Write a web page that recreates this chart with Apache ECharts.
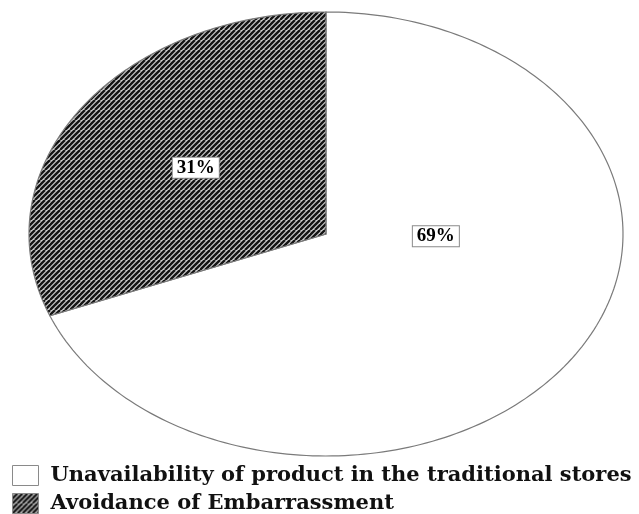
<!DOCTYPE html>
<html>
<head>
<meta charset="utf-8">
<script src="https://cdn.jsdelivr.net/npm/echarts@6/dist/echarts.min.js"></script>
<style>
  html, body { margin: 0; padding: 0; background: #fff; }
  #chart { width: 639px; height: 514px; }
</style>
</head>
<body>
<div id="chart"></div>
<script>
// data
const categories = ["Unavailability of product in the traditional stores", "Avoidance of Embarrassment"];
const values = [69, 31];
const labels = ["69%", "31%"];

// ellipse geometry (px)
const CX = 326, CY = 234, RX = 297, RY = 222;
// label placement: [angle clockwise from top in deg or null for mid angle, fraction of radius]
const labelPlace = [[91.5, 0.37], [null, 0.53]];

// diagonal hatch pattern
const makeHatch = () => {
  const s = 10, p = 5;
  const c = document.createElement("canvas");
  c.width = s; c.height = s;
  const ctx = c.getContext("2d");
  ctx.fillStyle = "#cfcfcf";
  ctx.fillRect(0, 0, s, s);
  ctx.strokeStyle = "#141414";
  ctx.lineWidth = 2.4;
  for (let k = -2 * s; k <= 3 * s; k += p) {
    ctx.beginPath();
    ctx.moveTo(k, 0);
    ctx.lineTo(k - s, s);
    ctx.stroke();
  }
  return { image: c, repeat: "repeat" };
};
const hatch = makeHatch();
const fills = ["#ffffff", hatch];

const total = values.reduce((a, b) => a + b, 0);

const renderSlice = (params, api) => {
  const i = params.seriesIndex;
  let before = 0;
  for (let k = 0; k < i; k++) before += values[k];
  const a0 = (before / total) * 2 * Math.PI;
  const a1 = ((before + values[i]) / total) * 2 * Math.PI;
  const pts = [[CX, CY]];
  const steps = 200;
  for (let s = 0; s <= steps; s++) {
    const t = a0 + (a1 - a0) * (s / steps);
    pts.push([CX + RX * Math.sin(t), CY - RY * Math.cos(t)]);
  }
  const place = labelPlace[i];
  const la = place[0] == null ? (a0 + a1) / 2 : (place[0] * Math.PI) / 180;
  const lx = CX + RX * place[1] * Math.sin(la);
  const ly = CY - RY * place[1] * Math.cos(la);
  return {
    type: "group",
    children: [
      {
        type: "polygon",
        shape: { points: pts },
        style: { fill: fills[i], stroke: "#7a7a7a", lineWidth: 1.2 }
      },
      {
        type: "text",
        x: lx,
        y: ly,
        style: {
          text: labels[i],
          font: 'bold 19px "Liberation Serif"',
          fill: "#000",
          align: "center",
          verticalAlign: "middle",
          backgroundColor: "#fff",
          borderColor: "#8a8a8a",
          borderWidth: 1,
          padding: [1, 4, 0, 4]
        }
      }
    ]
  };
};

const chart = echarts.init(document.getElementById("chart"));
chart.setOption({
  animation: false,
  legend: {
    orient: "vertical",
    left: 12,
    top: 465,
    padding: 0,
    itemWidth: 26,
    itemHeight: 20,
    itemGap: 7,
    icon: "rect",
    data: categories,
    itemStyle: { borderColor: "#8a8a8a", borderWidth: 1 },
    textStyle: {
      fontFamily: "DejaVu Serif",
      fontWeight: "bold",
      fontSize: 21,
      color: "#111",
      lineHeight: 20,
      padding: [0, 0, 0, 7]
    }
  },
  series: categories.map((name, i) => ({
    type: "custom",
    name: name,
    coordinateSystem: "none",
    itemStyle: { color: fills[i], borderColor: "#8a8a8a", borderWidth: 1 },
    renderItem: renderSlice,
    data: [[values[i]]]
  }))
});
</script>
</body>
</html>
